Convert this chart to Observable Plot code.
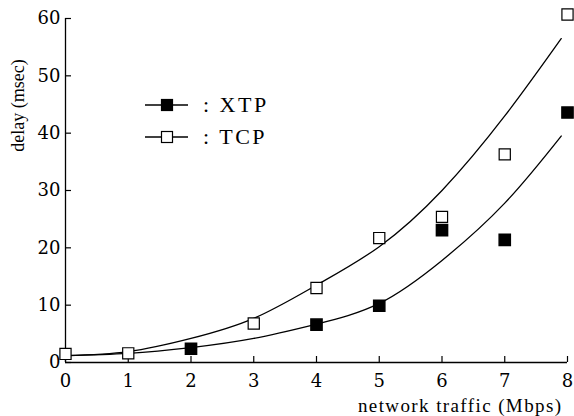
<!DOCTYPE html>
<html><head><meta charset="utf-8">
<script src="https://cdn.jsdelivr.net/npm/d3@7"></script>
<script src="https://cdn.jsdelivr.net/npm/@observablehq/plot@0.6"></script>
<style>
body{margin:0;background:#fff;}
#wrap{position:relative;width:574px;height:416px;font-family:"Liberation Serif",serif;}
.leg{position:absolute;left:145px;height:24px;font-size:22px;line-height:24px;letter-spacing:2.5px;display:flex;align-items:center;}
.leg svg{margin-right:14px;}
</style>
</head><body>
<div id="wrap"></div>
<script>
// measured points
const xtpX = [2, 4, 5, 6, 7, 8];
const xtpY = [2.4, 6.6, 9.9, 23.1, 21.4, 43.6];
const tcpX = [0, 1, 3, 4, 5, 6, 7, 8];
const tcpY = [1.5, 1.6, 6.8, 13.0, 21.7, 25.4, 36.3, 60.7];
// fitted curves
const curveX = [0, 1, 2, 3, 4, 5, 6, 7, 7.9];
const tcpCurveY = [1.2, 1.9, 4.2, 7.7, 13.5, 20.2, 30.0, 43.0, 56.5];
const xtpCurveY = [1.2, 1.6, 2.6, 4.2, 6.7, 10.3, 17.8, 27.8, 39.5];
const xTicks = [0,1,2,3,4,5,6,7,8];
const yTicks = [0,10,20,30,40,50,60];
const legendLabels = [": XTP", ": TCP"];

const pts = (xs, ys) => xs.map((x,i)=>({x, y: ys[i]}));
const W = 574, H = 416, ML = 65, MR = 7, MT = 18, MB = 54;
const frameW = W - ML - MR, frameH = H - MT - MB;

const chart = Plot.plot({
  width: W, height: H,
  marginLeft: ML, marginRight: MR, marginTop: MT, marginBottom: MB,
  style: {fontFamily: "Liberation Serif", fontSize: "18px", background: "#fff", color: "#000"},
  x: {domain: [0, 8]},
  y: {domain: [0, 60]},
  marks: [
    Plot.ruleY([0], {strokeWidth: 1.3}),
    Plot.ruleX([0], {strokeWidth: 1.3}),
    // inward ticks
    Plot.tickX(xTicks, {x: d => d, insetTop: frameH - 6, strokeWidth: 1.2}),
    Plot.tickY(yTicks, {y: d => d, insetRight: frameW - 6, strokeWidth: 1.2}),
    Plot.axisX({ticks: xTicks, tickSize: 0, tickPadding: 12, label: null, fontSize: 18, fontFamily: "DejaVu Serif"}),
    Plot.axisY({ticks: yTicks, tickSize: 0, tickPadding: 5, label: null, fontSize: 18, fontFamily: "DejaVu Serif"}),
    Plot.line(pts(curveX, tcpCurveY), {x: "x", y: "y", curve: "natural", strokeWidth: 1.3}),
    Plot.line(pts(curveX, xtpCurveY), {x: "x", y: "y", curve: "natural", strokeWidth: 1.3}),
    Plot.dot(pts(xtpX, xtpY), {x: "x", y: "y", symbol: "square", r: 6.3, fill: "#000", stroke: "#000"}),
    Plot.dot(pts(tcpX, tcpY), {x: "x", y: "y", symbol: "square", r: 6.3, fill: "#fff", stroke: "#000", strokeWidth: 1.2}),
    Plot.text(["network traffic (Mbps)"], {frameAnchor: "bottom-right", dy: 43, dx: -5, textAnchor: "end", lineAnchor: "middle", fontSize: 19, className: "xlab"}),
    Plot.text(["delay (msec)"], {frameAnchor: "top-left", rotate: -90, dx: -47, dy: 87, textAnchor: "middle", lineAnchor: "middle", fontSize: 18})
  ]
});
const wrap = document.getElementById("wrap");
wrap.appendChild(chart);
chart.querySelectorAll(".xlab text").forEach(t => t.style.letterSpacing = "1.4px");

const legendFills = ["#000", "#fff"];
const legendCenters = [105, 137];
legendLabels.forEach((label, i) => {
  const d = document.createElement("div");
  d.className = "leg";
  d.style.top = (legendCenters[i] - 12) + "px";
  d.innerHTML = `<svg width="44" height="24"><line x1="0" x2="43" y1="12" y2="12" stroke="#000" stroke-width="1.3"/><rect x="16.5" y="6.5" width="11" height="11" fill="${legendFills[i]}" stroke="#000" stroke-width="1.2"/></svg><span>${label}</span>`;
  wrap.appendChild(d);
});
</script>
</body></html>
